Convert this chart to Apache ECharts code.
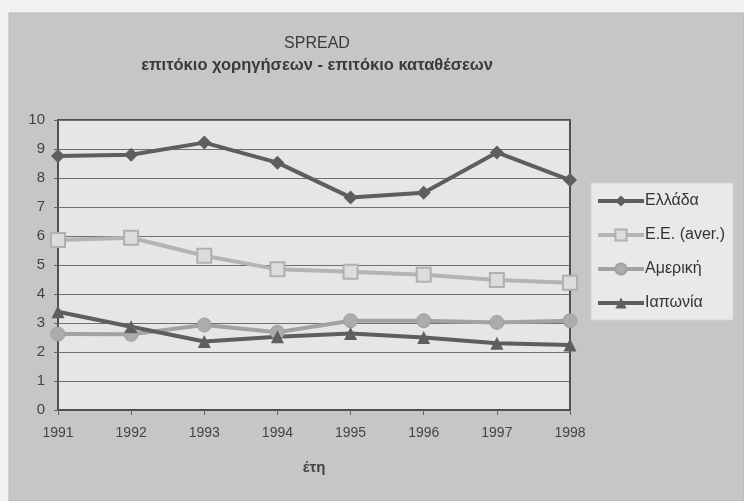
<!DOCTYPE html>
<html>
<head>
<meta charset="utf-8">
<script src="https://cdn.jsdelivr.net/npm/echarts@6/dist/echarts.min.js"></script>
<style>
html,body{margin:0;padding:0;background:#f1f1f1;}
#chart{width:744px;height:501px;}
</style>
</head>
<body>
<div id="chart"></div>
<script>
const years = ['1991','1992','1993','1994','1995','1996','1997','1998'];
const greece = [8.76, 8.8, 9.22, 8.53, 7.33, 7.49, 8.88, 7.93];
const eu = [5.86, 5.94, 5.32, 4.85, 4.77, 4.66, 4.48, 4.39];
const usa = [2.62, 2.61, 2.93, 2.68, 3.08, 3.08, 3.02, 3.08];
const japan = [3.39, 2.87, 2.36, 2.53, 2.64, 2.5, 2.3, 2.24];
const seriesNames = ['Ελλάδα', 'E.E. (aver.)', 'Αμερική', 'Ιαπωνία'];

const chart = echarts.init(document.getElementById('chart'));
const font = 'Liberation Sans, Arial, sans-serif';
chart.setOption({
  backgroundColor: '#f1f1f1',
  animation: false,
  textStyle: {fontFamily: font},
  graphic: [{
    type: 'rect', z: -10, silent: true,
    shape: {x: 9, y: 13, width: 735, height: 488},
    style: {fill: '#c6c6c6', stroke: '#b4b4b4', lineWidth: 1}
  }],
  title: {
    text: 'SPREAD',
    subtext: 'επιτόκιο χορηγήσεων - επιτόκιο καταθέσεων',
    left: 312, textAlign: 'center', top: 31, itemGap: 5,
    textStyle: {fontSize: 16, fontWeight: 'normal', color: '#3a3a3a', fontFamily: font},
    subtextStyle: {fontSize: 16.5, fontWeight: 'bold', color: '#3a3a3a', fontFamily: font}
  },
  legend: {
    orient: 'vertical', left: 591, top: 183,
    padding: [10, 8, 9, 5], itemGap: 18, itemWidth: 46, itemHeight: 14,
    backgroundColor: '#e9e9e9', borderColor: '#d4d4d4', borderWidth: 1,
    lineStyle: {width: 4},
    textStyle: {fontSize: 16, color: '#333', fontFamily: font, padding: [0, 0, 0, -4]},
    data: seriesNames
  },
  grid: {left: 58, right: 174, top: 120, bottom: 91,
    show: true, backgroundColor: '#e6e6e6', borderColor: '#505050', borderWidth: 2},
  xAxis: {
    type: 'category', data: years, boundaryGap: false,
    name: 'έτη', nameLocation: 'middle', nameGap: 50,
    nameTextStyle: {fontSize: 15, fontWeight: 'bold', color: '#444', fontFamily: font},
    axisLine: {lineStyle: {color: '#505050', width: 2}},
    axisTick: {show: true, length: 5, lineStyle: {color: '#666'}},
    axisLabel: {fontSize: 14, color: '#444', margin: 16, fontFamily: font}
  },
  yAxis: {
    type: 'value', min: 0, max: 10, interval: 1,
    axisLine: {show: true, lineStyle: {color: '#505050', width: 2}},
    axisTick: {show: true, length: 4, lineStyle: {color: '#666'}},
    axisLabel: {fontSize: 15, color: '#444', margin: 13, fontFamily: font},
    splitLine: {lineStyle: {color: '#707070', width: 1}}
  },
  series: [
    {name: seriesNames[0], type: 'line', data: greece, symbol: 'diamond', symbolSize: 14,
      lineStyle: {color: '#5e5e5e', width: 4}, itemStyle: {color: '#5e5e5e'}},
    {name: seriesNames[1], type: 'line', data: eu, symbol: 'rect', symbolSize: 14,
      lineStyle: {color: '#b4b4b4', width: 4},
      itemStyle: {color: '#dcdcdc', borderColor: '#b0b0b0', borderWidth: 2}},
    {name: seriesNames[2], type: 'line', data: usa, symbol: 'circle', symbolSize: 14,
      lineStyle: {color: '#a2a2a2', width: 4},
      itemStyle: {color: '#acacac', borderColor: '#a0a0a0', borderWidth: 1}},
    {name: seriesNames[3], type: 'line', data: japan, symbol: 'triangle', symbolSize: 13,
      lineStyle: {color: '#5e5e5e', width: 4}, itemStyle: {color: '#5e5e5e'}}
  ]
});
</script>
</body>
</html>
